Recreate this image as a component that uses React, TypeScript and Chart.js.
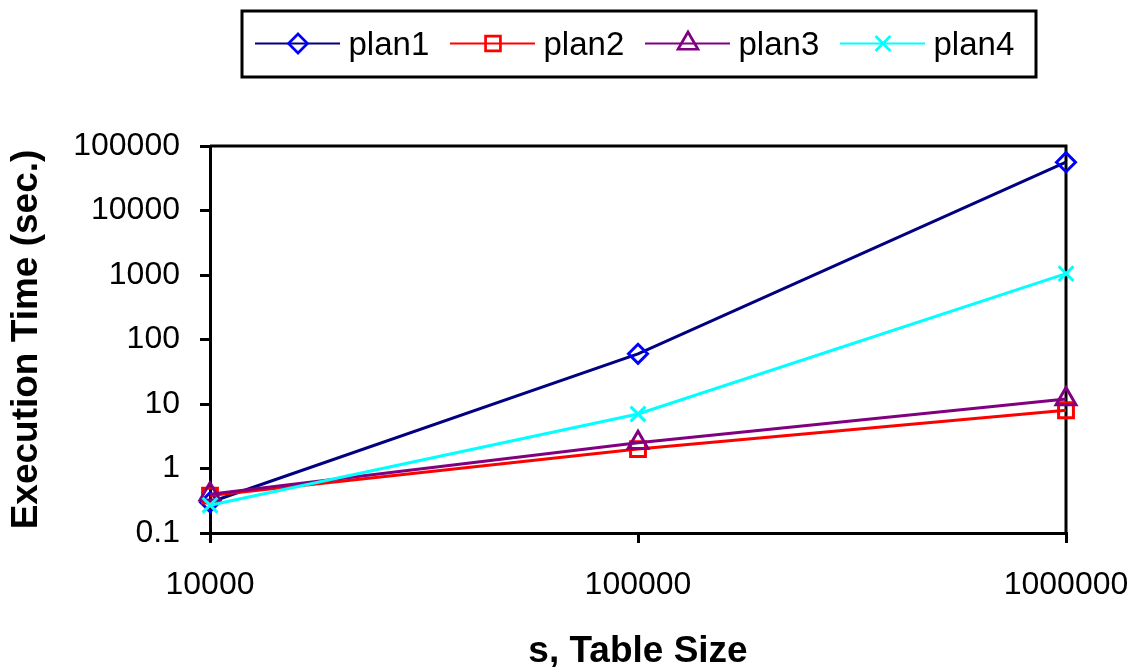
import React, { useEffect, useRef } from 'react';
import { Chart, registerables } from 'chart.js';

Chart.register(...registerables);

// ---- data ----
const tableSizes = [10000, 100000, 1000000];
const seriesNames = ['plan1', 'plan2', 'plan3', 'plan4'];
const plan1 = [0.3, 60, 56000];
const plan2 = [0.38, 2, 8];
const plan3 = [0.4, 2.5, 12];
const plan4 = [0.27, 7, 1050];
const xTickValues = [10000, 100000, 1000000];
const yTickValues = [0.1, 1, 10, 100, 1000, 10000, 100000];
const xAxisTitle = 's, Table Size';
const yAxisTitle = 'Execution Time (sec.)';

// ---- styles ----
const seriesValues = [plan1, plan2, plan3, plan4];
const lineColors = ['#000080', '#FF0000', '#800080', '#00FFFF'];
const markerColors = ['#0000FF', '#FF0000', '#800080', '#00FFFF'];
const markerStyles = ['rectRot', 'rect', 'triangle', 'crossRot'];
const markerRadii = [9.5, 10.5, 11.5, 10.5];
const FONT = "'Liberation Sans', Arial, Helvetica, sans-serif";

const W = 1134;
const H = 667;

function drawMarker(ctx: CanvasRenderingContext2D, style: string, x: number, y: number, r: number) {
  ctx.beginPath();
  if (style === 'rectRot') {
    ctx.moveTo(x, y - r);
    ctx.lineTo(x + r, y);
    ctx.lineTo(x, y + r);
    ctx.lineTo(x - r, y);
    ctx.closePath();
  } else if (style === 'rect') {
    const s = r * Math.SQRT1_2;
    ctx.rect(x - s, y - s, 2 * s, 2 * s);
  } else if (style === 'triangle') {
    ctx.moveTo(x, y - r);
    ctx.lineTo(x + 0.866 * r, y + 0.5 * r);
    ctx.lineTo(x - 0.866 * r, y + 0.5 * r);
    ctx.closePath();
  } else if (style === 'crossRot') {
    const s = r * Math.SQRT1_2;
    ctx.moveTo(x - s, y - s);
    ctx.lineTo(x + s, y + s);
    ctx.moveTo(x - s, y + s);
    ctx.lineTo(x + s, y - s);
  }
  ctx.stroke();
}

const framePlugin = {
  id: 'frame',
  beforeDatasetsDraw(chart: any) {
    const { ctx, chartArea } = chart;
    ctx.save();
    ctx.strokeStyle = '#000';
    ctx.lineWidth = 3;
    ctx.beginPath();
    ctx.moveTo(chartArea.left, chartArea.top);
    ctx.lineTo(chartArea.right, chartArea.top);
    ctx.lineTo(chartArea.right, chartArea.bottom);
    ctx.stroke();
    ctx.restore();
  },
};

const legendPlugin = {
  id: 'boxLegend',
  afterDraw(chart: any) {
    const ctx: CanvasRenderingContext2D = chart.ctx;
    ctx.save();
    ctx.strokeStyle = '#000';
    ctx.lineWidth = 3;
    ctx.strokeRect(242, 11, 794, 66);
    const y = 43.5;
    seriesNames.forEach((name, i) => {
      const x0 = 255 + i * 195;
      ctx.strokeStyle = lineColors[i];
      ctx.lineWidth = 2;
      ctx.beginPath();
      ctx.moveTo(x0, y);
      ctx.lineTo(x0 + 85, y);
      ctx.stroke();
      ctx.strokeStyle = markerColors[i];
      ctx.lineWidth = 2.7;
      drawMarker(ctx, markerStyles[i], x0 + 43, y, markerRadii[i]);
      ctx.fillStyle = '#000';
      ctx.font = `33px ${FONT}`;
      ctx.textBaseline = 'alphabetic';
      ctx.textAlign = 'left';
      ctx.fillText(name, x0 + 93.5, 55);
    });
    ctx.restore();
  },
};

export default function App() {
  const canvasRef = useRef<HTMLCanvasElement | null>(null);

  useEffect(() => {
    document.body.style.margin = '0';
    const canvas = canvasRef.current;
    if (!canvas) return;

    const datasets = seriesNames.map((name, i) => ({
      label: name,
      data: tableSizes.map((x, j) => ({ x, y: seriesValues[i][j] })),
      borderColor: lineColors[i],
      borderWidth: 3,
      pointStyle: markerStyles[i],
      pointRadius: markerRadii[i],
      pointBorderColor: markerColors[i],
      pointBorderWidth: 3,
      pointBackgroundColor: 'rgba(0,0,0,0)',
      tension: 0,
      fill: false,
      clip: false,
      order: seriesNames.length - 1 - i,
    }));

    const chart = new Chart(canvas, {
      type: 'line',
      data: { datasets },
      options: {
        animation: false,
        responsive: false,
        devicePixelRatio: 1,
        layout: { padding: { top: 146, right: 68, left: 0, bottom: 0 } },
        plugins: { legend: { display: false }, tooltip: { enabled: false } },
        scales: {
          x: {
            type: 'logarithmic',
            min: 10000,
            max: 1000000,
            afterBuildTicks: (axis: any) => {
              axis.ticks = xTickValues.map((v) => ({ value: v }));
            },
            afterFit: (axis: any) => {
              axis.height = H - 533;
              axis.paddingLeft = 0;
              axis.paddingRight = 0;
            },
            grid: {
              drawOnChartArea: false,
              drawTicks: true,
              tickLength: 10,
              tickColor: '#000',
              tickWidth: 3,
              color: '#000',
              lineWidth: 3,
            },
            border: { display: true, color: '#000', width: 3 },
            ticks: {
              color: '#000',
              font: { family: FONT, size: 32 },
              padding: 23,
              maxRotation: 0,
              autoSkip: false,
              callback: (v: any) => String(v),
            },
            title: {
              display: true,
              text: xAxisTitle,
              color: '#000',
              font: { family: FONT, size: 37, weight: 'bold', lineHeight: 1 },
              padding: { top: 0, bottom: -3 },
            },
          },
          y: {
            type: 'logarithmic',
            min: 0.1,
            max: 100000,
            afterBuildTicks: (axis: any) => {
              axis.ticks = yTickValues.map((v) => ({ value: v }));
            },
            afterFit: (axis: any) => {
              axis.width = 210;
              axis.paddingTop = 0;
              axis.paddingBottom = 0;
            },
            grid: {
              drawOnChartArea: false,
              drawTicks: true,
              tickLength: 10,
              tickColor: '#000',
              tickWidth: 3,
              color: '#000',
              lineWidth: 3,
            },
            border: { display: true, color: '#000', width: 3 },
            ticks: {
              color: '#000',
              font: { family: FONT, size: 32 },
              padding: 20,
              autoSkip: false,
              callback: (v: any) => String(v),
            },
            title: {
              display: true,
              text: yAxisTitle,
              color: '#000',
              font: { family: FONT, size: 37, weight: 'bold', lineHeight: 1 },
              padding: { top: 8, bottom: 0 },
            },
          },
        },
      },
      plugins: [framePlugin, legendPlugin],
    } as any);

    return () => {
      chart.destroy();
    };
  }, []);

  return (
    <div style={{ position: 'fixed', left: 0, top: 0, width: W, height: H, background: '#fff' }}>
      <canvas ref={canvasRef} width={W} height={H} style={{ width: W, height: H, display: 'block' }} />
    </div>
  );
}
